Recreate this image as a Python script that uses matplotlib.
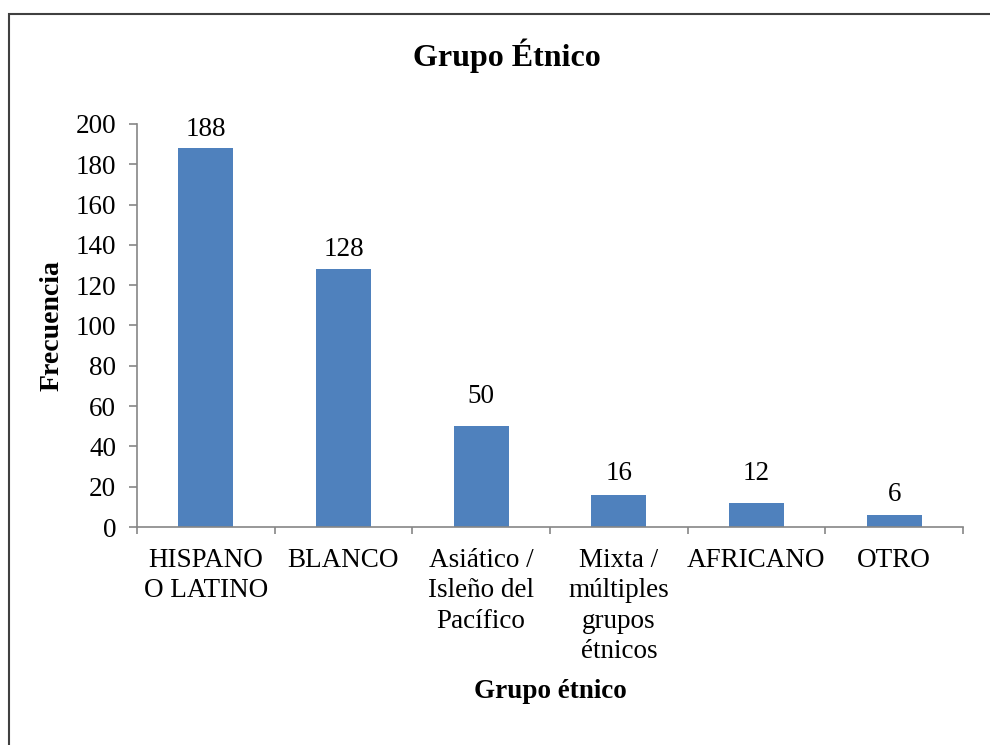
import matplotlib
matplotlib.use("Agg")
import matplotlib.pyplot as plt
from matplotlib.patches import Rectangle

categories = ["HISPANO\nO LATINO", "BLANCO", "Asiático /\nIsleño del\nPacífico",
              "Mixta /\nmúltiples\ngrupos\nétnicos", "AFRICANO", "OTRO"]
values = [188, 128, 50, 16, 12, 6]
yticks = [0, 20, 40, 60, 80, 100, 120, 140, 160, 180, 200]

# label placement offsets above each bar (points) - layout only
label_offsets = [4.5, 5, 12.5, 6, 12, 5.7]

plt.rcParams['font.family'] = ['Liberation Serif', 'DejaVu Serif']
FS = 19.5

fig = plt.figure(figsize=(9.9, 7.45), dpi=100)
ax = fig.add_axes([0.1384, 0.2926, 0.9727 - 0.1384, 0.8336 - 0.2926])

x = list(range(len(categories)))
bars = ax.bar(x, values, width=0.4, color="#4F81BD", zorder=2)
for xi, v, off in zip(x, values, label_offsets):
    ax.annotate(str(v), (xi, v), xytext=(0, off), textcoords="offset points",
                ha="center", va="bottom", fontsize=FS)

ax.set_xlim(-0.5, len(categories) - 0.5)
ax.set_ylim(0, 200)
ax.set_yticks(yticks)
ax.set_yticklabels([str(t) for t in yticks], fontsize=FS)
ax.set_xticks(x)
ax.set_xticklabels(categories, fontsize=FS, linespacing=1.29)
ax.set_xticks([i - 0.5 for i in range(len(categories) + 1)], minor=True)
ax.tick_params(axis="x", which="major", length=0, pad=15)
ax.tick_params(axis="x", which="minor", length=5, color="#868686", width=1.2)
ax.tick_params(axis="y", length=6, color="#868686", width=1.2, pad=9)

for s in ["top", "right"]:
    ax.spines[s].set_visible(False)
for s in ["left", "bottom"]:
    ax.spines[s].set_color("#868686")
    ax.spines[s].set_linewidth(1.2)

ax.set_ylabel("Frecuencia", fontsize=FS + 0.5, fontweight="bold", va="center")
ax.yaxis.set_label_coords((52 - 137) / 827, 0.5)
ax.set_xlabel("Grupo étnico", fontsize=FS, fontweight="bold", va="center")
ax.xaxis.set_label_coords((551 - 137) / 827, (527 - 691) / 403)
fig.text(0.512, 0.925, "Grupo Étnico", ha="center", va="center",
         fontsize=23, fontweight="bold")

fig.patches.append(Rectangle((8.5 / 990, -0.1), 1.2, (745 - 14) / 745 + 0.1,
                             transform=fig.transFigure, fill=False,
                             edgecolor="#404040", linewidth=1.5))

fig.savefig("out.png", dpi=100)
